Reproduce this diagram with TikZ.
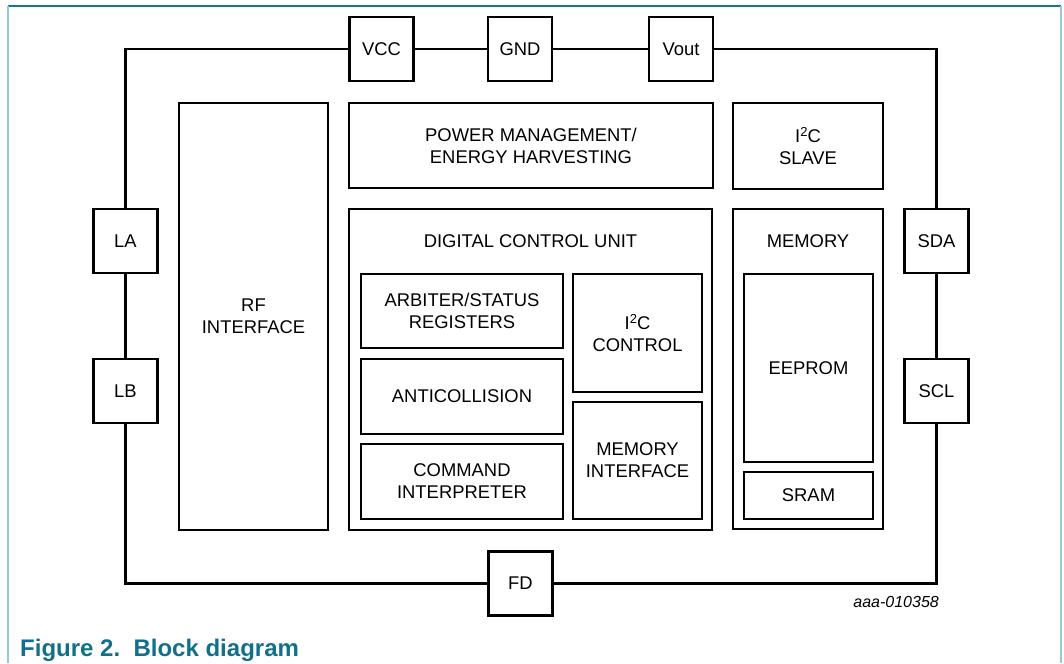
\documentclass[tikz,border=0pt]{standalone}
\usepackage{fontspec}
\setmainfont{Liberation Sans}
\definecolor{capteal}{RGB}{16,112,140}
\definecolor{frametop}{RGB}{20,120,148}
\definecolor{frameside}{RGB}{150,200,216}
\newcommand{\supr}[1]{\raisebox{0.55ex}{\fontsize{13}{13}\selectfont #1}}
\begin{document}
\begin{tikzpicture}[x=1pt,y=-1pt,
  txt/.style={font=\fontsize{18.4}{22}\selectfont, align=center, inner sep=0pt},
  pin/.style={draw, line width=2.8pt, fill=white, minimum width=64pt, minimum height=64pt, txt},
  obox/.style={draw, line width=2.8pt, fill=white, txt},
  ibox/.style={draw, line width=1.4pt, fill=white, txt},
  wire/.style={line width=2.8pt}]
\useasboundingbox (0,0) rectangle (1064,663);
% frame
\draw[frametop, line width=2pt] (8,6) -- (1061,6);
\draw[frameside, line width=2pt] (8,6) -- (8,663);
\draw[frameside, line width=2pt] (1061,6) -- (1061,663);
% pins
\node[pin] (VCC) at (381.5,49) {VCC};
\node[pin] (GND) at (520,49) {GND};
\node[pin] (Vout) at (681,49) {Vout};
\node[pin] (LA) at (125.5,241) {LA};
\node[pin] (LB) at (125.5,391) {LB};
\node[pin] (SDA) at (936.5,241) {SDA};
\node[pin] (SCL) at (936.5,391) {SCL};
\node[pin] (FD) at (520.5,583.5) {FD};
% wires
\draw[wire] (VCC.west) -| (LA.north);
\draw[wire] (LA.south) -- (LB.north);
\draw[wire] (LB.south) |- (FD.west);
\draw[wire] (FD.east) -| (SCL.south);
\draw[wire] (SCL.north) -- (SDA.south);
\draw[wire] (SDA.north) |- (Vout.east);
\draw[wire] (Vout.west) -- (GND.east);
\draw[wire] (GND.west) -- (VCC.east);
% blocks
\node[obox, minimum width=149pt, minimum height=427pt] (RF) at (253.5,316.5) {RF\\INTERFACE};
\node[obox, minimum width=364pt, minimum height=85pt] (PM) at (531,145.5) {POWER MANAGEMENT/\\ENERGY HARVESTING};
\node[obox, minimum width=150pt, minimum height=86pt] (I2CS) at (808,146) {I\supr{2}C\\SLAVE};
\node[obox, minimum width=363pt, minimum height=321pt] (DCU) at (530.5,369.5) {};
\node[txt] (DCUl) at (530.5,241) {DIGITAL CONTROL UNIT};
\node[obox, minimum width=150pt, minimum height=320pt] (MEM) at (808,369) {};
\node[txt] (MEMl) at (808,241) {MEMORY};
\node[ibox, minimum width=202pt, minimum height=74pt] (ARB) at (462,311) {ARBITER/STATUS\\REGISTERS};
\node[ibox, minimum width=202pt, minimum height=75pt] (ANTI) at (462,396.5) {ANTICOLLISION};
\node[ibox, minimum width=202pt, minimum height=75pt] (CMD) at (462,481.5) {COMMAND\\INTERPRETER};
\node[ibox, minimum width=129pt, minimum height=118pt] (I2CC) at (637.5,333) {I\supr{2}C\\CONTROL};
\node[ibox, minimum width=129pt, minimum height=117pt] (MIF) at (637.5,460.5) {MEMORY\\INTERFACE};
\node[ibox, minimum width=129pt, minimum height=188pt] (EE) at (808.5,368) {EEPROM};
\node[ibox, minimum width=129pt, minimum height=47pt] (SRAM) at (808.5,495.5) {SRAM};
% labels
\node[anchor=base east, inner sep=0pt, font=\fontsize{16}{19}\selectfont\itshape] (code) at (939,607) {aaa-010358};
\node[anchor=base west, inner sep=0pt, text=capteal, font=\fontsize{24}{28}\selectfont\bfseries] (cap) at (20,656) {Figure 2.\ \ Block diagram};
\end{tikzpicture}
\end{document}
